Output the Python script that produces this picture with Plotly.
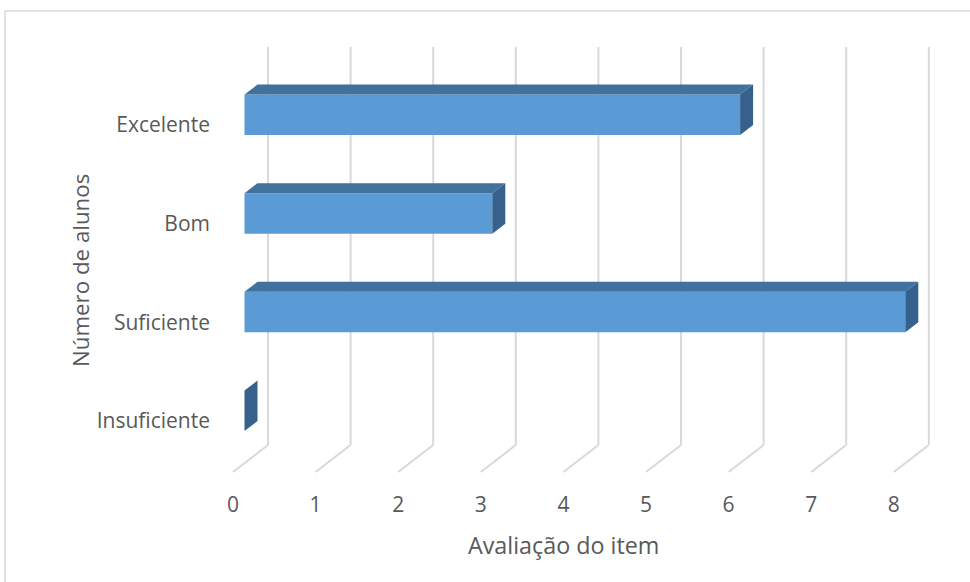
import plotly.graph_objects as go

# ---- data ----
categories = ["Insuficiente", "Suficiente", "Bom", "Excelente"]
values = [0, 8, 3, 6]
x_ticks = [0, 1, 2, 3, 4, 5, 6, 7, 8]
x_title = "Avaliação do item"
y_title = "Número de alunos"

# ---- layout geometry (pixels) ----
W, H = 970, 582
L, R, T, B = 216, 952, 40, 490
X0_PX, X_UNIT = 233.0, 82.6      # pixel of value 0 on the floor front, px per unit
Y0_PX, Y_UNIT = 421.0, 98.67     # pixel of first category, px per category

def vx(px):
    return (px - X0_PX) / X_UNIT

def vy(py):
    return (Y0_PX - py) / Y_UNIT

# 3D offsets in data units
WALL_DX = 35 / X_UNIT
WALL_DY = 27 / Y_UNIT
FLOOR_Y = vy(472)
WALL_TOP = vy(47)
BAR_X0 = 11.5 / X_UNIT
BAR_LO = -10 / Y_UNIT
BAR_HI = 30.5 / Y_UNIT
DEP_DX = 13 / X_UNIT
DEP_DY = 10 / Y_UNIT

FRONT = "#5B9BD5"
TOP = "#41719C"
SIDE = "#35618C"
GRID = "#D9D9D9"
TXT = "#595959"
FONT = "Open Sans"

fig = go.Figure()

# front faces
fig.add_trace(go.Bar(
    orientation="h",
    x=values,
    base=[BAR_X0] * len(values),
    y=[i + (BAR_LO + BAR_HI) / 2 for i in range(len(categories))],
    width=BAR_HI - BAR_LO,
    marker=dict(color=FRONT, line=dict(width=0)),
    hoverinfo="skip",
    showlegend=False,
))

# top faces and side faces
for i, v in enumerate(values):
    xa, xb = BAR_X0, BAR_X0 + v
    ylo, yhi = i + BAR_LO, i + BAR_HI
    if v > 0:
        fig.add_trace(go.Scatter(
            x=[xa, xb, xb + DEP_DX, xa + DEP_DX, xa],
            y=[yhi, yhi, yhi + DEP_DY, yhi + DEP_DY, yhi],
            fill="toself", fillcolor=TOP, mode="none",
            hoverinfo="skip", showlegend=False))
    fig.add_trace(go.Scatter(
        x=[xb, xb + DEP_DX, xb + DEP_DX, xb, xb],
        y=[ylo, ylo + DEP_DY, yhi + DEP_DY, yhi, ylo],
        fill="toself", fillcolor=SIDE, mode="none",
        hoverinfo="skip", showlegend=False))

shapes = []
# back wall gridlines and floor diagonals
for t in x_ticks:
    shapes.append(dict(type="line", xref="x", yref="y", layer="below",
                       x0=t + WALL_DX, x1=t + WALL_DX,
                       y0=FLOOR_Y + WALL_DY, y1=WALL_TOP,
                       line=dict(color=GRID, width=2)))
    shapes.append(dict(type="line", xref="x", yref="y", layer="below",
                       x0=t + WALL_DX, x1=t,
                       y0=FLOOR_Y + WALL_DY, y1=FLOOR_Y,
                       line=dict(color=GRID, width=2)))

# chart frame (extends beyond the window on the right and bottom)
pw, ph = R - L, B - T
fx = (5 - L) / pw
fy = (B - 11) / ph
shapes.append(dict(type="line", xref="paper", yref="paper",
                   x0=fx, x1=(W + 10 - L) / pw, y0=fy, y1=fy,
                   line=dict(color=GRID, width=1.5)))
shapes.append(dict(type="line", xref="paper", yref="paper",
                   x0=fx, x1=fx, y0=fy, y1=(B - H - 10) / ph,
                   line=dict(color=GRID, width=1.5)))

annotations = [
    dict(text=x_title, xref="x", yref="paper", x=4.0, y=(B - 545) / ph,
         xanchor="center", yanchor="middle", showarrow=False,
         font=dict(family=FONT, size=23.3, color=TXT)),
    dict(text=y_title, xref="paper", yref="y", x=(80 - L) / pw, y=1.52,
         xanchor="center", yanchor="middle", showarrow=False, textangle=-90,
         font=dict(family=FONT, size=22.3, color=TXT)),
]

fig.update_layout(
    width=W, height=H,
    margin=dict(l=L, r=W - R, t=T, b=H - B, pad=0),
    paper_bgcolor="white", plot_bgcolor="white",
    shapes=shapes, annotations=annotations,
    showlegend=False,
    xaxis=dict(range=[vx(L), vx(R)], tickvals=x_ticks,
               ticktext=[str(t) for t in x_ticks],
               showgrid=False, zeroline=False, showline=False, ticks="",
               tickfont=dict(family=FONT, size=21, color=TXT), fixedrange=True),
    yaxis=dict(range=[vy(B), vy(T)], tickvals=list(range(len(categories))),
               ticktext=categories, ticklabelstandoff=5,
               showgrid=False, zeroline=False, showline=False, ticks="",
               tickfont=dict(family=FONT, size=21, color=TXT), fixedrange=True),
)

fig.write_html("out.html")
